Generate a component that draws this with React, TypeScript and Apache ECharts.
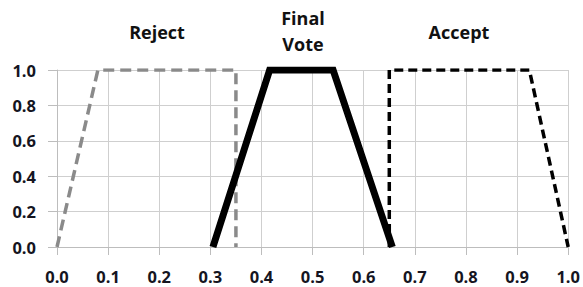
import React, { useEffect, useRef } from "react";
import * as echarts from "echarts";

const xTicks = [0, 0.1, 0.2, 0.3, 0.4, 0.5, 0.6, 0.7, 0.8, 0.9, 1.0];
const rejectX = [0, 0.08, 0.35, 0.35];
const rejectY = [0, 1, 1, 0];
const finalX = [0.305, 0.416, 0.54, 0.656];
const finalY = [0, 1, 1, 0];
const acceptX = [0.65, 0.65, 0.924, 1.0];
const acceptY = [0, 1, 1, 0];
const labels = ["Reject", "Final\nVote", "Accept"];

const zip = (xs: number[], ys: number[]) => xs.map((x, i) => [x, ys[i]]);

export default function App() {
  const ref = useRef<HTMLDivElement>(null);
  useEffect(() => {
    if (!ref.current) return;
    const chart = echarts.init(ref.current, undefined, { renderer: "svg" });
    const font = "'Open Sans', sans-serif";
    const titleStyle = {
      fontSize: 18,
      fontWeight: "bold",
      fontFamily: font,
      fill: "#111",
      align: "center",
      verticalAlign: "middle",
      lineHeight: 26,
    };
    chart.setOption({
      animation: false,
      backgroundColor: "#fff",
      grid: { left: 57, right: 14, top: 70, bottom: 40 },
      xAxis: {
        type: "value",
        min: 0,
        max: 1,
        interval: 0.1,
        axisLine: { show: true, lineStyle: { color: "#bdbdbd", width: 1 } },
        axisTick: { show: true, length: 8, lineStyle: { color: "#bdbdbd" } },
        splitLine: { show: true, lineStyle: { color: "#cfcfcf", width: 1 } },
        axisLabel: {
          margin: 21,
          color: "#15151f",
          fontWeight: "bold",
          fontSize: 16.5,
          fontFamily: font,
          formatter: (v: number) => v.toFixed(1),
        },
      },
      yAxis: {
        type: "value",
        min: 0,
        max: 1,
        interval: 0.2,
        axisLine: { show: true, lineStyle: { color: "#bdbdbd", width: 1 } },
        axisTick: { show: true, length: 9, lineStyle: { color: "#bdbdbd" } },
        splitLine: { show: true, lineStyle: { color: "#cfcfcf", width: 1 } },
        axisLabel: {
          margin: 21,
          color: "#15151f",
          fontWeight: "bold",
          fontSize: 16.5,
          fontFamily: font,
          formatter: (v: number) => v.toFixed(1),
        },
      },
      series: [
        {
          type: "line",
          name: "Reject",
          data: zip(rejectX, rejectY),
          symbol: "none",
          lineStyle: { color: "#8a8a8a", width: 3.5, type: [11, 6] },
        },
        {
          type: "line",
          name: "Accept",
          data: zip(acceptX, acceptY),
          symbol: "none",
          lineStyle: { color: "#000", width: 3.5, type: [9, 5] },
        },
        {
          type: "line",
          name: "Final Vote",
          data: zip(finalX, finalY),
          symbol: "none",
          lineStyle: { color: "#000", width: 7, join: "miter" },
        },
      ],
      graphic: [
        { type: "text", x: 157, y: 32, style: { ...titleStyle, text: labels[0] } },
        { type: "text", x: 303, y: 31, style: { ...titleStyle, text: labels[1] } },
        { type: "text", x: 459, y: 32, style: { ...titleStyle, text: labels[2] } },
      ],
    });
    return () => chart.dispose();
  }, []);
  return <div ref={ref} style={{ width: 583, height: 287, position: "absolute", left: 0, top: 0 }} />;
}
